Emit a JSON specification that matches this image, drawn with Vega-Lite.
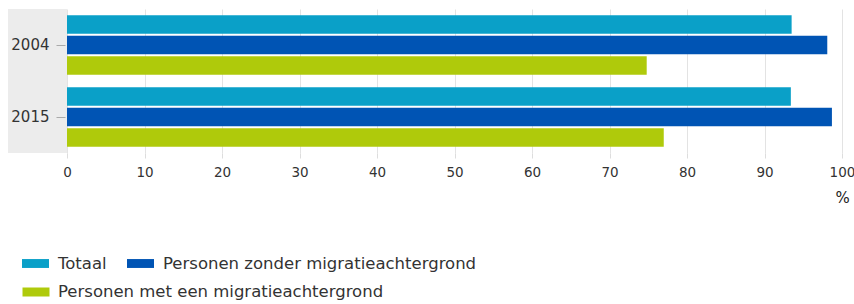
{
  "$schema": "https://vega.github.io/schema/vega-lite/v6.json",
  "padding": {"left": 8, "top": 9, "right": 0, "bottom": 0},
  "background": "white",
  "config": {
    "font": "DejaVu Sans",
    "view": {"stroke": null},
    "concat": {"spacing": 0}
  },
  "data": {
    "values": [
      {"year": "2004", "group": "Totaal", "value": 93.5},
      {"year": "2004", "group": "Personen zonder migratieachtergrond", "value": 98.1},
      {"year": "2004", "group": "Personen met een migratieachtergrond", "value": 74.8},
      {"year": "2015", "group": "Totaal", "value": 93.4},
      {"year": "2015", "group": "Personen zonder migratieachtergrond", "value": 98.7},
      {"year": "2015", "group": "Personen met een migratieachtergrond", "value": 77.0}
    ]
  },
  "bounds": "flush",
  "spacing": 0,
  "hconcat": [
    {
      "width": 59,
      "height": 144,
      "view": {"fill": "#ececec", "stroke": null},
      "mark": {"type": "rect", "opacity": 0},
      "encoding": {
        "y": {"field": "year", "type": "nominal", "axis": null}
      }
    },
    {
      "width": 775,
      "height": 144,
      "encoding": {
        "y": {
          "field": "year",
          "type": "nominal",
          "scale": {"paddingInner": 0, "paddingOuter": 0},
          "axis": {
            "title": null,
            "domain": false,
            "offset": 2,
            "tickSize": 9,
            "tickColor": "#aaaaaa",
            "labelPadding": 7,
            "labelFontSize": 15,
            "labelColor": "#333333"
          }
        },
        "yOffset": {
          "field": "group",
          "type": "nominal",
          "sort": ["Totaal", "Personen zonder migratieachtergrond", "Personen met een migratieachtergrond"],
          "scale": {"paddingInner": 0.1, "paddingOuter": 0.3}
        },
        "x": {
          "field": "value",
          "type": "quantitative",
          "scale": {"domain": [0, 100], "nice": false},
          "axis": {
            "title": "%",
            "titleAnchor": "end",
            "titleAlign": "center",
            "titleFontSize": 15,
            "titleFontWeight": "normal",
            "titleColor": "#222222",
            "titlePadding": 12,
            "values": [0, 10, 20, 30, 40, 50, 60, 70, 80, 90, 100],
            "domain": false,
            "grid": true,
            "gridColor": "#e3e3e3",
            "tickColor": "#dddddd",
            "tickSize": 5,
            "labelPadding": 7,
            "labelFontSize": 13.5,
            "labelColor": "#333333",
            "labelFlush": false
          }
        }
      },
      "layer": [
        {
          "mark": {"type": "bar"},
          "encoding": {
            "fill": {
              "field": "group",
              "type": "nominal",
              "scale": {
                "domain": ["Totaal", "Personen zonder migratieachtergrond", "Personen met een migratieachtergrond"],
                "range": ["#0aa0c8", "#0054b4", "#afca0b"]
              },
              "legend": {
                "title": null,
                "values": ["Totaal", "Personen zonder migratieachtergrond"],
                "orient": "none",
                "legendX": 14,
                "legendY": 241,
                "direction": "horizontal",
                "symbolType": "M-1,-0.33H1V0.33H-1Z",
                "symbolSize": 729,
                "symbolStrokeWidth": 0,
                "labelFontSize": 16.5,
                "labelColor": "#333333",
                "labelOffset": 9,
                "columnPadding": 20,
                "labelLimit": 500
              }
            }
          }
        },
        {
          "mark": {"type": "bar", "opacity": 0},
          "encoding": {
            "stroke": {
              "field": "group",
              "type": "nominal",
              "scale": {
                "domain": ["Personen met een migratieachtergrond"],
                "range": ["#afca0b"]
              },
              "legend": {
                "title": null,
                "orient": "none",
                "legendX": 10,
                "legendY": 265,
                "direction": "horizontal",
                "symbolType": "M-1,0H1",
                "symbolSize": 729,
                "symbolStrokeWidth": 9,
                "symbolFillColor": "transparent",
                "symbolOpacity": 1,
                "labelFontSize": 16.5,
                "labelColor": "#333333",
                "labelOffset": 4,
                "labelLimit": 500
              }
            }
          }
        }
      ]
    }
  ]
}
